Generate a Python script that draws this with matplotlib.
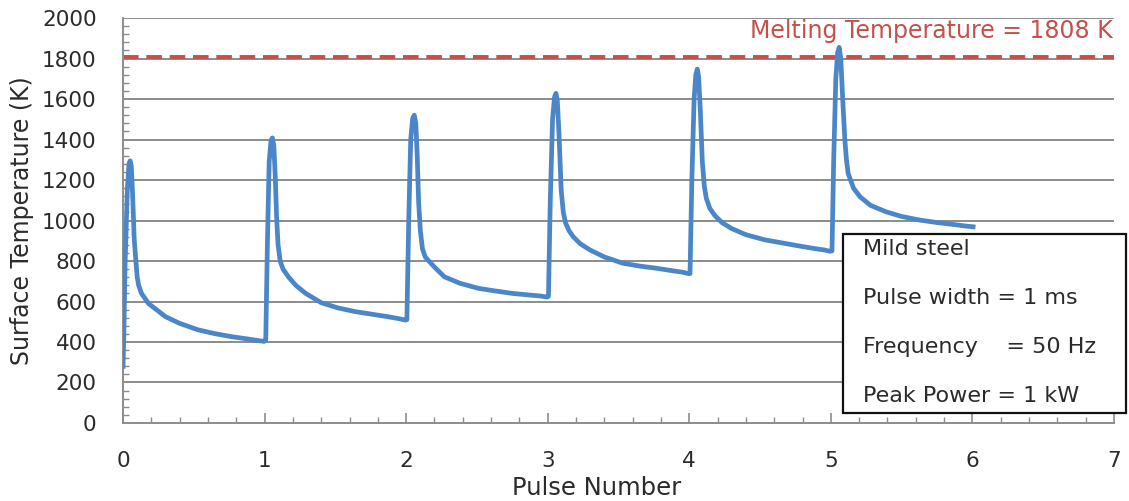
import numpy as np
import matplotlib
matplotlib.use('Agg')
import matplotlib.pyplot as plt
from matplotlib.patches import Rectangle
from matplotlib.ticker import MultipleLocator

# values, one block per pulse
pulse0_x = [0.0, 0.005, 0.015, 0.03, 0.042, 0.05, 0.058, 0.068, 0.078, 0.085, 0.1, 0.11, 0.13,
            0.18, 0.3, 0.4, 0.53, 0.65, 0.77, 0.9, 0.995]
pulse0_y = [280, 420, 800, 1150, 1280, 1295, 1270, 1120, 920, 850, 720, 680, 640,
            590, 525, 492, 460, 441, 426, 413, 403]
pulse1_x = [1.008, 1.02, 1.032, 1.045, 1.055, 1.065, 1.075, 1.085, 1.095, 1.11, 1.13, 1.17,
            1.22, 1.29, 1.4, 1.52, 1.64, 1.76, 1.87, 1.95, 1.995]
pulse1_y = [410, 900, 1290, 1395, 1408, 1370, 1220, 1010, 880, 800, 760, 720,
            680, 640, 594, 568, 550, 537, 525, 515, 508]
pulse2_x = [2.005, 2.018, 2.032, 2.046, 2.057, 2.068, 2.078, 2.088, 2.1, 2.115, 2.135, 2.16,
            2.2, 2.27, 2.38, 2.51, 2.63, 2.75, 2.87, 2.95, 2.995]
pulse2_y = [510, 1000, 1400, 1505, 1520, 1480, 1320, 1090, 950, 860, 820, 800,
            770, 722, 690, 665, 652, 640, 632, 627, 622]
pulse3_x = [3.005, 3.018, 3.034, 3.048, 3.058, 3.068, 3.08, 3.095, 3.11, 3.125, 3.15, 3.18,
            3.23, 3.3, 3.4, 3.53, 3.65, 3.77, 3.88, 3.95, 3.995]
pulse3_y = [625, 1100, 1500, 1610, 1628, 1590, 1420, 1150, 1040, 990, 950, 920,
            885, 854, 820, 789, 775, 764, 752, 745, 738]
pulse4_x = [4.005, 4.018, 4.034, 4.046, 4.056, 4.066, 4.078, 4.092, 4.106, 4.12, 4.145, 4.18,
            4.23, 4.3, 4.4, 4.53, 4.65, 4.77, 4.88, 4.95, 4.995]
pulse4_y = [738, 1200, 1600, 1720, 1748, 1710, 1540, 1290, 1170, 1110, 1060, 1025,
            990, 960, 930, 905, 890, 875, 862, 855, 848]
pulse5_x = [5.008, 5.02, 5.035, 5.048, 5.059, 5.07, 5.085, 5.099, 5.11, 5.122, 5.16, 5.205,
            5.28, 5.39, 5.5, 5.63, 5.75, 5.87, 5.95, 6.005]
pulse5_y = [850, 1300, 1700, 1830, 1855, 1800, 1580, 1397, 1300, 1233, 1160, 1118,
            1075, 1043, 1020, 1002, 990, 980, 973, 969]

melting_temp = 1808
melting_label = 'Melting Temperature = 1808 K'
info_lines = ['Mild steel', 'Pulse width = 1 ms', 'Frequency    = 50 Hz', 'Peak Power = 1 kW']

pulse_x = pulse0_x + pulse1_x + pulse2_x + pulse3_x + pulse4_x + pulse5_x
pulse_y = pulse0_y + pulse1_y + pulse2_y + pulse3_y + pulse4_y + pulse5_y

blue = '#4a86c8'
red = '#c4504c'
grid_grey = '#8c8c8c'
text_col = '#2b2b2b'

fig = plt.figure(figsize=(11.29, 5.01), dpi=100)
ax = fig.add_axes([0.109, 0.1557, 0.8777, 0.8083])

for y in range(200, 2001, 200):
    ax.axhline(y, color=grid_grey, lw=1.4, zorder=1)

ax.axhline(melting_temp, color=red, lw=2.8, dashes=(4, 2), zorder=2)
ax.plot(pulse_x, pulse_y, color=blue, lw=3.4, solid_joinstyle='round', zorder=3)

ax.set_xlim(0, 7)
ax.set_ylim(0, 2000)
ax.xaxis.set_major_locator(MultipleLocator(1))
ax.xaxis.set_minor_locator(MultipleLocator(0.2))
ax.yaxis.set_major_locator(MultipleLocator(200))
ax.yaxis.set_minor_locator(MultipleLocator(40))

for s in ['top', 'right']:
    ax.spines[s].set_visible(False)
for s in ['left', 'bottom']:
    ax.spines[s].set_color(grid_grey)
    ax.spines[s].set_linewidth(1.4)

ax.tick_params(axis='x', which='major', direction='in', length=7, width=1.2, color=grid_grey,
               labelsize=15.5, labelcolor=text_col, pad=20)
ax.tick_params(axis='x', which='minor', direction='in', length=4, width=1.0, color=grid_grey)
ax.tick_params(axis='y', which='major', direction='in', length=0, labelsize=15.5,
               labelcolor=text_col, pad=19)
ax.tick_params(axis='y', which='minor', direction='in', length=4, width=1.0, color=grid_grey)

ax.set_ylabel('Surface Temperature (K)', fontsize=17, color=text_col, labelpad=6)
ax.set_xlabel('Pulse Number', fontsize=17.5, color=text_col)
ax.xaxis.set_label_coords(0.478, -0.13)

ax.text(6.99, 1935, melting_label, color=red, fontsize=17, ha='right', va='center')

box = Rectangle((0.7265, 0.0247), 0.2855, 0.442, transform=ax.transAxes, facecolor='white',
                edgecolor='#111111', lw=1.6, clip_on=False, zorder=5)
ax.add_patch(box)
for i, line in enumerate(info_lines):
    ax.text(0.7467, 0.4296 - i * 0.121, line, transform=ax.transAxes, fontsize=16,
            color=text_col, va='center', ha='left', zorder=6)

fig.savefig('out.png', dpi=100, facecolor='white')
